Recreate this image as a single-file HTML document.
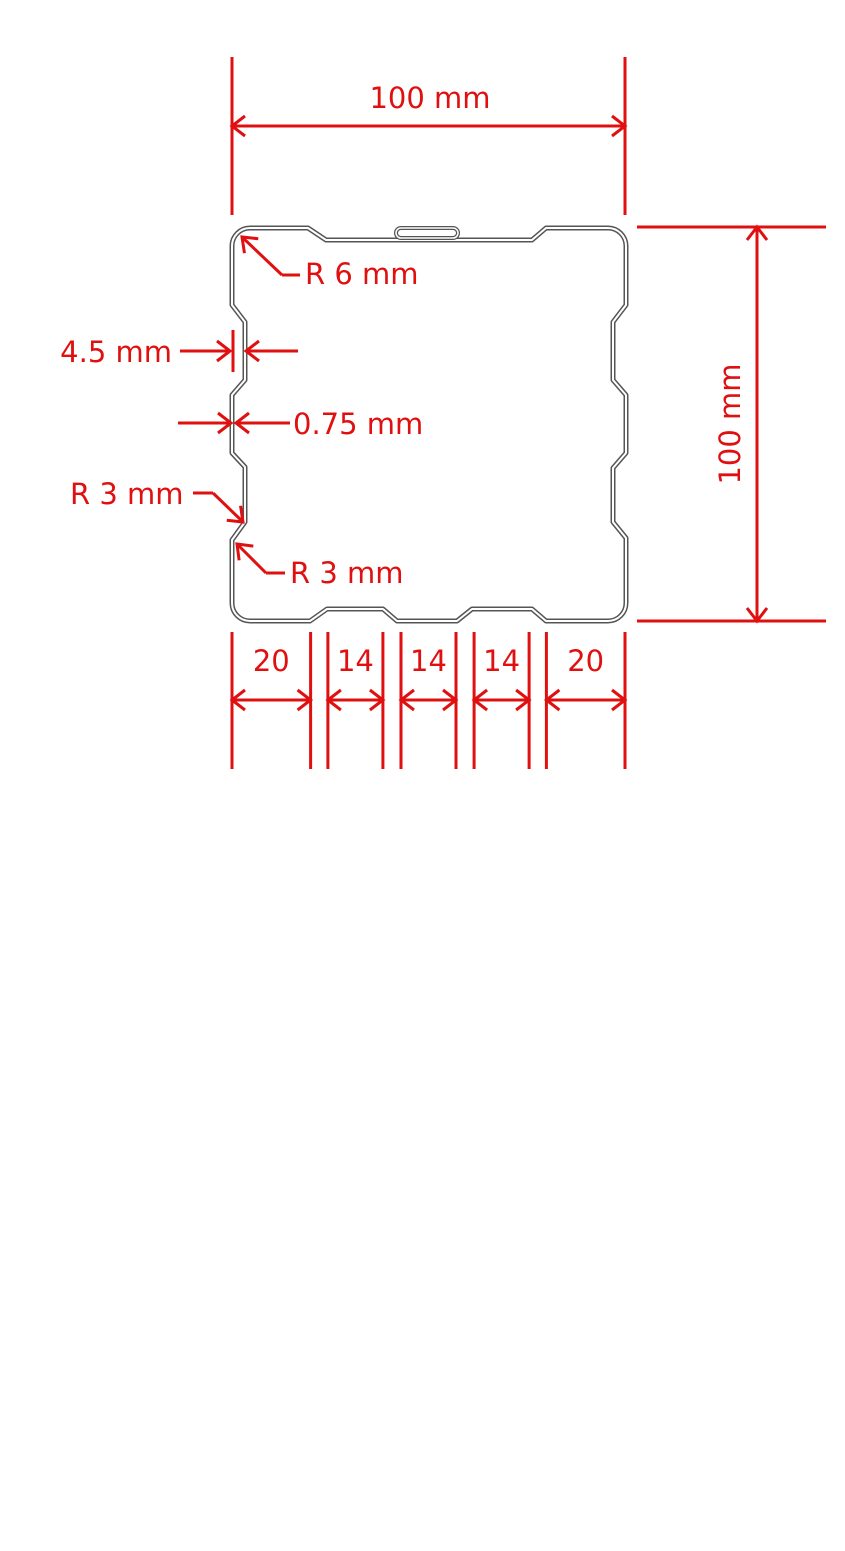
<!DOCTYPE html>
<html><head><meta charset="utf-8"><style>
html,body{margin:0;padding:0;background:#fff}
svg{display:block}
text{font-family:"DejaVu Sans","Liberation Sans",sans-serif;font-size:29px;fill:#e01010}
</style></head><body>
<svg id="drw" width="845" height="1551" viewBox="0 0 845 1551" xmlns="http://www.w3.org/2000/svg">
<g fill="none" stroke-linejoin="round">
<path id="prof" stroke="#555" stroke-width="5" d="M250,228 L308,228 L326,240 L470,240 L532,240 L546,228 L608,228 A18,18 0 0 1 626,246 L626,305 L613,322 L613,380 L626,395 L626,453 L613,468 L613,522 L626,538 L626,603 A18,18 0 0 1 608,621 L546,621 L532,609 L472,609 L457,621 L397,621 L383,609 L327,609 L310,621 L250,621 A18,18 0 0 1 232,603 L232,540 L245,522 L245,467 L232,453 L232,395 L245,380 L245,322 L232,305 L232,246 A18,18 0 0 1 250,228 Z"/>
<path stroke="#fff" stroke-width="2" d="M250,228 L308,228 L326,240 L470,240 L532,240 L546,228 L608,228 A18,18 0 0 1 626,246 L626,305 L613,322 L613,380 L626,395 L626,453 L613,468 L613,522 L626,538 L626,603 A18,18 0 0 1 608,621 L546,621 L532,609 L472,609 L457,621 L397,621 L383,609 L327,609 L310,621 L250,621 A18,18 0 0 1 232,603 L232,540 L245,522 L245,467 L232,453 L232,395 L245,380 L245,322 L232,305 L232,246 A18,18 0 0 1 250,228 Z"/>
<rect x="396" y="228" width="62" height="10" rx="5" stroke="#555" stroke-width="4"/>
<rect x="396" y="228" width="62" height="10" rx="5" stroke="#fff" stroke-width="1.5"/>
</g>
<g id="dims" stroke="#e01010" stroke-width="3" fill="none"></g>
<text x="430" y="108" text-anchor="middle">100 mm</text>
<text x="740" y="424" text-anchor="middle" transform="rotate(-90 740 424)">100 mm</text>
<text x="172" y="362" text-anchor="end">4.5 mm</text>
<text x="293" y="434">0.75 mm</text>
<text x="305" y="284">R 6 mm</text>
<text x="70" y="504">R 3 mm</text>
<text x="290" y="583">R 3 mm</text>
</svg>
<script>
const segLabels = ["20", "14", "14", "14", "20"];
const segStartsMm = [0, 24.4, 43, 61.6, 80];
const segLengthsMm = [20, 14, 14, 14, 20];
const X0 = 232, PXMM = 3.93;
const xs = mm => X0 + mm * PXMM;
const NS = "http://www.w3.org/2000/svg";
const g = document.getElementById('dims');
const svg = document.getElementById('drw');
function line(x1,y1,x2,y2,name){
  const l=document.createElementNS(NS,'line');
  l.setAttribute('x1',x1);l.setAttribute('y1',y1);l.setAttribute('x2',x2);l.setAttribute('y2',y2);
  
  
  g.appendChild(l);
}
function head(x,y,dx,dy,name){
  const s=13,w=10, px=-dy, py=dx;
  const p=document.createElementNS(NS,'polyline');
  p.setAttribute('points',`${x-dx*s+px*w},${y-dy*s+py*w} ${x},${y} ${x-dx*s-px*w},${y-dy*s-py*w}`);
  
  
  g.appendChild(p);
}
line(232,57,232,215,'ext-line-left');line(625,57,625,215,'ext-line-right');
line(232,126,625,126,'width-dim-line');head(232,126,-1,0,'arrow');head(625,126,1,0,'arrow');
line(637,227,826,227,'ext-line-top');line(637,621,826,621,'ext-line-bottom');
line(757,227,757,621,'height-dim-line');head(757,227,0,-1,'arrow');head(757,621,0,1,'arrow');
line(180,351,230,351,'depth-arrow-left');head(230,351,1,0,'arrow');
line(233,330,233,372,'depth-tick');
line(298,351,246,351,'depth-arrow-right');head(246,351,-1,0,'arrow');
line(178,423,231,423,'thickness-arrow-left');head(231,423,1,0,'arrow');
line(290,423,236,423,'thickness-arrow-right');head(236,423,-1,0,'arrow');
line(300,275,282,275,'r6-leader');line(282,275,242,237,'r6-leader-diag');head(242,237,-0.72,-0.69,'arrow');
line(193,493,213,493,'r3-leader');line(213,493,243,522,'r3-leader-diag');head(243,522,0.72,0.69,'arrow');
line(285,573,266,573,'r3b-leader');line(266,573,237,544,'r3b-leader-diag');head(237,544,-0.71,-0.71,'arrow');
segLabels.forEach((lab,i)=>{
  const a=xs(segStartsMm[i]), b=xs(segStartsMm[i]+segLengthsMm[i]);
  line(a,632,a,769,'seg-ext-line');line(b,632,b,769,'seg-ext-line');
  line(a,700,b,700,'seg-dim-line');head(a,700,-1,0,'arrow');head(b,700,1,0,'arrow');
  const t=document.createElementNS(NS,'text');
  t.setAttribute('x',(a+b)/2);t.setAttribute('y',671);t.setAttribute('text-anchor','middle');
  t.textContent=lab;
  
  
  svg.appendChild(t);
});
</script>
</body></html>
